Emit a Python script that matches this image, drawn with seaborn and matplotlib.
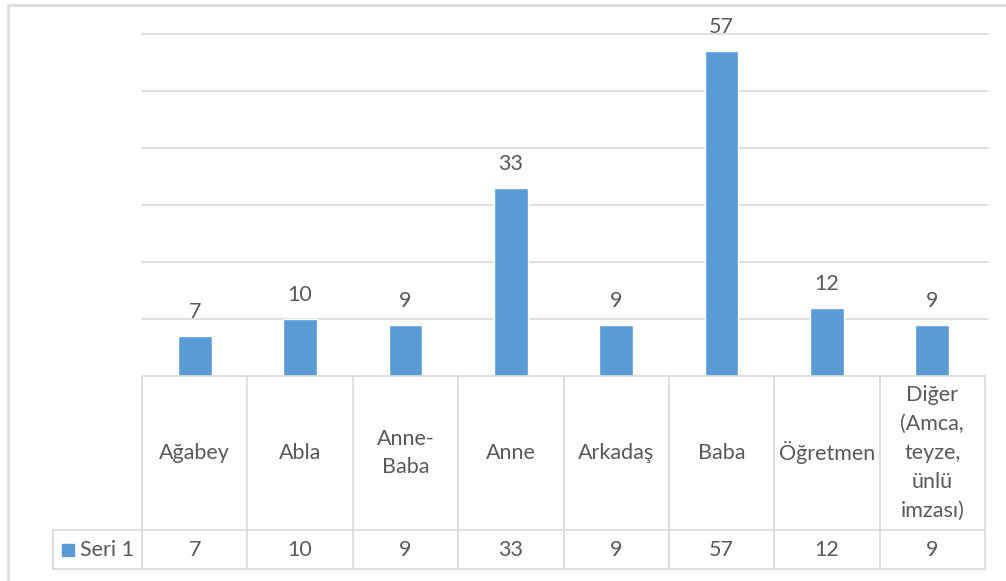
import matplotlib
matplotlib.use("Agg")
import matplotlib.pyplot as plt
import seaborn as sns
import pandas as pd
from matplotlib.patches import Rectangle

categories = ["Ağabey", "Abla", "Anne-\nBaba", "Anne", "Arkadaş", "Baba",
              "Öğretmen", "Diğer\n(Amca,\nteyze,\nünlü\nimzası)"]
values = [7, 10, 9, 33, 9, 57, 12, 9]
series_name = "Seri 1"
y_ticks = [0, 10, 20, 30, 40, 50, 60]

BAR = "#5b9bd5"
GRID = "#d9d9d9"
TXT = "#595959"
FS = 15.5

sns.set_theme(style="white")
plt.rcParams["font.family"] = ["Lato", "DejaVu Sans"]

df = pd.DataFrame({"cat": range(len(values)), "val": values})

W, H = 1006, 581
fig = plt.figure(figsize=(W / 100, H / 100), dpi=100)

# chart area border (left + top visible)
fig.patches.append(Rectangle((8 / W, -0.1), 1.2, 1.1 - 5 / H, transform=fig.transFigure,
                             fill=False, edgecolor=GRID, linewidth=1.8))

# bar axes
ax = fig.add_axes([142 / W, (H - 376) / H, 843 / W, (376 - 34) / H])
sns.barplot(data=df, x="cat", y="val", color=BAR, width=0.32, saturation=1,
            ax=ax, native_scale=False)
ax.set_xlim(-0.5, len(values) - 0.5)
ax.set_ylim(y_ticks[0], y_ticks[-1])
for t in y_ticks[1:]:
    ax.axhline(t, color=GRID, linewidth=1.2, zorder=0, xmax=1.004, clip_on=False)
for c in ax.containers:
    ax.bar_label(c, labels=[str(v) for v in values], padding=10, fontsize=FS, color=TXT)
sns.despine(ax=ax, left=True, bottom=True, top=True, right=True)
ax.set_xticks([])
ax.set_yticks([])
ax.set_xlabel("")
ax.set_ylabel("")
ax.patch.set_alpha(0)

# data table below
left_w = 0.845
tax = fig.add_axes([53 / W, (H - 569) / H, (985 - 53) / W, (569 - 376) / H])
tax.set_xlim(-0.5 - left_w, len(values) - 0.5)
tax.set_ylim(0, 1)
tax.axis("off")
split = 39 / 193
lk = dict(color=GRID, linewidth=1.2, clip_on=False)
# horizontal lines
tax.plot([-0.5, len(values) - 0.5], [1, 1], **lk)
tax.plot([-0.5 - left_w, len(values) - 0.5], [split, split], **lk)
tax.plot([-0.5 - left_w, len(values) - 0.5], [0, 0], **lk)
# vertical lines
tax.plot([-0.5 - left_w, -0.5 - left_w], [0, split], **lk)
for i in range(len(values) + 1):
    tax.plot([i - 0.5, i - 0.5], [0, 1], **lk)
for i, (cat, v) in enumerate(zip(categories, values)):
    tax.text(i, (1 + split) / 2, cat, ha="center", va="center", fontsize=FS,
             color=TXT, linespacing=1.55)
    tax.text(i, split / 2, str(v), ha="center", va="center", fontsize=FS, color=TXT)
# legend key + series name
tax.scatter([-0.5 - left_w + 0.14], [split / 2], marker="s", s=75, color=BAR, clip_on=False)
tax.text(-0.5 - left_w + 0.26, split / 2, series_name, ha="left", va="center",
         fontsize=FS, color=TXT)

fig.savefig("out.png", dpi=100)
